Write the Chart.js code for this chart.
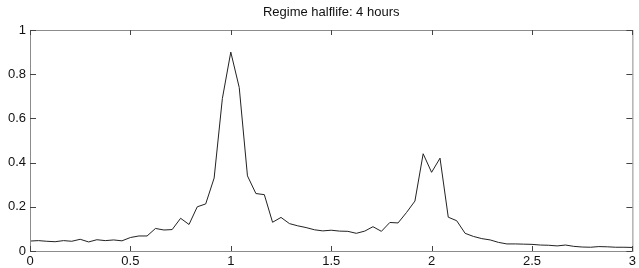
<!DOCTYPE html>
<html>
<head>
<meta charset="utf-8">
<script src="https://cdn.jsdelivr.net/npm/chart.js@4/dist/chart.umd.min.js"></script>
<style>
  body { margin: 0; background: #fff; }
</style>
</head>
<body>
<canvas id="chart" width="639" height="268"></canvas>
<script>
// sample times (the curve is sampled every 1/24)
const xValues = [0, 0.042, 0.083, 0.125, 0.167, 0.208, 0.25, 0.292, 0.333, 0.375, 0.417, 0.458,
  0.5, 0.542, 0.583, 0.625, 0.667, 0.708, 0.75, 0.792, 0.833, 0.875, 0.917, 0.958,
  1, 1.042, 1.083, 1.125, 1.167, 1.208, 1.25, 1.292, 1.333, 1.375, 1.417, 1.458,
  1.5, 1.542, 1.583, 1.625, 1.667, 1.708, 1.75, 1.792, 1.833, 1.875, 1.917, 1.958,
  2, 2.042, 2.083, 2.125, 2.167, 2.208, 2.25, 2.292, 2.333, 2.375, 2.417, 2.458,
  2.5, 2.542, 2.583, 2.625, 2.667, 2.708, 2.75, 2.792, 2.833, 2.875, 2.917, 2.958, 3];

const yValues = [0.045, 0.047, 0.044, 0.042, 0.047, 0.044, 0.053, 0.041, 0.051, 0.047, 0.05, 0.046,
  0.061, 0.068, 0.068, 0.102, 0.095, 0.097, 0.148, 0.12, 0.2, 0.213, 0.33, 0.69,
  0.9, 0.74, 0.34, 0.26, 0.255, 0.13, 0.152, 0.124, 0.114, 0.106, 0.096, 0.091,
  0.094, 0.09, 0.089, 0.08, 0.09, 0.11, 0.089, 0.129, 0.127, 0.174, 0.226, 0.44,
  0.356, 0.42, 0.153, 0.137, 0.08, 0.066, 0.056, 0.05, 0.039, 0.032, 0.032, 0.031,
  0.03, 0.027, 0.026, 0.023, 0.027, 0.021, 0.018, 0.017, 0.02, 0.019, 0.017, 0.017, 0.016];

const xTicks = [0, 0.5, 1, 1.5, 2, 2.5, 3];
const yTicks = [0, 0.2, 0.4, 0.6, 0.8, 1];
const titleText = 'Regime halflife: 4 hours';

const FONT = { family: '"Liberation Sans", Arial, Helvetica, sans-serif', size: 13 };

// matlab style box with inward ticks on all four sides
const boxPlugin = {
  id: 'box',
  afterDraw(chart) {
    const { ctx, chartArea: a, scales } = chart;
    ctx.save();
    ctx.strokeStyle = '#8c8c8c';
    ctx.lineWidth = 1;
    ctx.strokeRect(a.left + 0.5, a.top + 0.5, a.right - a.left, a.bottom - a.top);
    ctx.strokeStyle = '#444';
    ctx.beginPath();
    xTicks.forEach(v => {
      const px = Math.round(scales.x.getPixelForValue(v)) + 0.5;
      ctx.moveTo(px, a.bottom);
      ctx.lineTo(px, a.bottom - 5);
      ctx.moveTo(px, a.top);
      ctx.lineTo(px, a.top + 5);
    });
    yTicks.forEach(v => {
      const py = Math.round(scales.y.getPixelForValue(v)) + 0.5;
      ctx.moveTo(a.left, py);
      ctx.lineTo(a.left + 6, py);
      ctx.moveTo(a.right, py);
      ctx.lineTo(a.right - 6, py);
    });
    ctx.stroke();
    ctx.restore();
  }
};

new Chart(document.getElementById('chart'), {
  type: 'line',
  data: {
    datasets: [{
      data: xValues.map((x, i) => ({ x: x, y: yValues[i] })),
      borderColor: '#222',
      borderWidth: 1,
      pointRadius: 0,
      tension: 0,
      fill: false
    }]
  },
  options: {
    responsive: false,
    animation: false,
    devicePixelRatio: 1,
    layout: { padding: { left: 0, right: 6, top: 0, bottom: 0 } },
    plugins: {
      legend: { display: false },
      tooltip: { enabled: false },
      title: {
        display: true,
        text: titleText,
        fullSize: false,
        color: '#111',
        font: { family: FONT.family, size: 13, weight: 'normal' },
        padding: { top: 5, bottom: 9.4 }
      }
    },
    scales: {
      x: {
        type: 'linear',
        min: 0,
        max: 3,
        afterFit(scale) { scale.height = 17; },
        afterBuildTicks(scale) { scale.ticks = xTicks.map(v => ({ value: v })); },
        grid: { display: false, drawTicks: false },
        border: { display: false },
        ticks: { color: '#111', font: FONT, padding: 3, maxRotation: 0, autoSkip: false,
          callback: v => String(v) }
      },
      y: {
        min: 0,
        max: 1,
        afterFit(scale) { scale.width = 30; },
        afterBuildTicks(scale) { scale.ticks = yTicks.map(v => ({ value: v })); },
        grid: { display: false, drawTicks: false },
        border: { display: false },
        ticks: { color: '#111', font: FONT, padding: 4, callback: v => String(v) }
      }
    }
  },
  plugins: [boxPlugin]
});
</script>
</body>
</html>
